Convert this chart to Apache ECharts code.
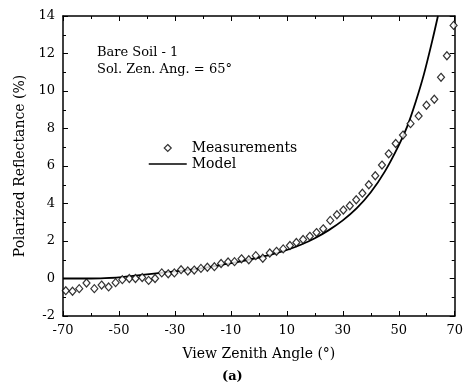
<!DOCTYPE html>
<html>
<head>
<meta charset="utf-8">
<script src="https://cdn.jsdelivr.net/npm/echarts@6/dist/echarts.min.js"></script>
<style>html,body{margin:0;padding:0;background:#fff}#c{width:466px;height:388px}</style>
</head>
<body>
<div id="c"></div>
<script>
// Measurements (view zenith angle in degrees, polarized reflectance in %)
const measAngle = [-69.0,-66.6,-64.2,-61.6,-58.8,-56.2,-53.7,-51.2,-48.8,-46.3,-44.1,-41.7,-39.4,-37.1,-34.7,-32.4,-30.2,-27.8,-25.4,-23.1,-20.7,-18.4,-15.9,-13.5,-11.0,-8.7,-6.2,-3.6,-1.1,1.4,3.9,6.3,8.7,11.1,13.4,15.8,18.2,20.6,23.0,25.5,27.9,30.2,32.5,34.8,37.0,39.3,41.6,44.0,46.4,48.9,51.5,54.2,57.1,59.9,62.7,65.1,67.2,69.6];
const measValue = [-0.65,-0.68,-0.54,-0.24,-0.54,-0.35,-0.45,-0.22,-0.06,0.0,0.0,0.05,-0.1,0.0,0.3,0.25,0.3,0.47,0.4,0.45,0.54,0.6,0.63,0.8,0.88,0.9,1.05,1.0,1.22,1.08,1.36,1.45,1.58,1.76,1.92,2.08,2.25,2.45,2.65,3.1,3.4,3.65,3.88,4.2,4.55,5.0,5.48,6.05,6.65,7.2,7.65,8.26,8.67,9.24,9.56,10.73,11.88,13.5];
// Model curve
const modelAngle = [-70,-65,-60,-55,-50,-45,-40,-35,-30,-25,-20,-15,-10,-5,0,5,10,15,20,25,30,35,40,45,50,53,56,59,62,64];
const modelValue = [0,0,0,0.02,0.06,0.14,0.22,0.3,0.38,0.46,0.55,0.68,0.82,0.96,1.12,1.3,1.52,1.8,2.15,2.58,3.1,3.75,4.6,5.7,7.1,8.1,9.4,10.9,12.7,14];
const xMin = -70, xMax = 70, xStep = 20;
const yMin = -2, yMax = 14, yStep = 2;
const seriesNames = ['Measurements', 'Model'];
const noteLines = ['Bare Soil - 1', 'Sol. Zen. Ang. = 65°'];
const xTitle = 'View Zenith Angle (°)';
const yTitle = 'Polarized Reflectance (%)';
const panelLabel = '(a)';

const FONT = 'DejaVu Serif';
const txt = {color:'#000', fontFamily:FONT, fontSize:13};
const titleTxt = {color:'#000', fontFamily:FONT, fontSize:14};
function axis(extra){
  return Object.assign({
    type:'value',
    axisLine:{show:true, onZero:false, lineStyle:{color:'#000', width:1.5}},
    axisTick:{show:true, inside:true, length:5, lineStyle:{color:'#000', width:1}},
    minorTick:{show:true, splitNumber:2, length:3, lineStyle:{color:'#000', width:1}},
    splitLine:{show:false},
    minorSplitLine:{show:false}
  }, extra);
}
const chart = echarts.init(document.getElementById('c'), null, {renderer:'canvas'});
chart.setOption({
  animation:false,
  backgroundColor:'#fff',
  grid:{left:63, right:8, top:16, bottom:72},
  xAxis:[
    axis({min:xMin, max:xMax, interval:xStep, position:'bottom',
      axisLabel:Object.assign({margin:8}, txt),
      name:xTitle, nameLocation:'middle', nameGap:31, nameTextStyle:titleTxt}),
    axis({min:xMin, max:xMax, interval:xStep, position:'top', axisLabel:{show:false}})
  ],
  yAxis:[
    axis({min:yMin, max:yMax, interval:yStep, position:'left',
      axisLabel:Object.assign({margin:8}, txt),
      name:yTitle, nameLocation:'middle', nameGap:36, nameTextStyle:titleTxt}),
    axis({min:yMin, max:yMax, interval:yStep, position:'right', axisLabel:{show:false}})
  ],
  legend:{
    orient:'vertical', left:148, top:141, itemWidth:38, itemHeight:8, itemGap:2, padding:0,
    textStyle:titleTxt,
    data:[
      {name:seriesNames[0], icon:'path://M0,0 M38,8 M19,0.5 L22.5,4 L19,7.5 L15.5,4 Z',
        itemStyle:{color:'#fff', borderColor:'#000', borderWidth:1.2}},
      {name:seriesNames[1], itemStyle:{color:'rgba(0,0,0,0)', borderColor:'rgba(0,0,0,0)', borderWidth:0}, lineStyle:{color:'#000', width:1.5}}
    ]
  },
  graphic:[
    {type:'text', left:97, top:46, style:{text:noteLines[0], fill:'#000', font:'13px "DejaVu Serif"'}},
    {type:'text', left:97, top:63, style:{text:noteLines[1], fill:'#000', font:'13px "DejaVu Serif"'}},
    {type:'text', left:222, top:370, style:{text:panelLabel, fill:'#000', font:'bold 13px "DejaVu Serif"'}}
  ],
  series:[
    {name:seriesNames[0], type:'scatter', symbol:'diamond', symbolSize:[7,8],
      itemStyle:{color:'#fff', borderColor:'#000', borderWidth:1.2}, z:3,
      data:measAngle.map((a,i)=>[a, measValue[i]])},
    {name:seriesNames[1], type:'line', showSymbol:false, symbol:'none', smooth:0.3, clip:true,
      lineStyle:{color:'#000', width:1.8}, itemStyle:{color:'#000'}, z:2,
      data:modelAngle.map((a,i)=>[a, modelValue[i]])}
  ]
});
</script>
</body>
</html>
